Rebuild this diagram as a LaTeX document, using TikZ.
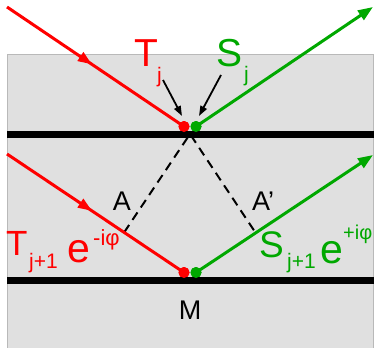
\documentclass[tikz,border=0pt]{standalone}
\usepackage{fontspec}
\setmainfont{Liberation Sans}
\usetikzlibrary{arrows.meta,decorations.markings,calc}
\definecolor{myred}{RGB}{255,0,0}
\definecolor{mygreen}{RGB}{0,168,0}
\definecolor{bgfill}{RGB}{224,224,224}
\definecolor{bgline}{RGB}{185,185,185}
\newcommand{\fsz}[1]{\fontsize{#1}{#1}\selectfont}
\begin{document}
\begin{tikzpicture}[x=1pt,y=-1pt,
  ray/.style={line width=3pt},
  redray/.style={ray,draw=myred,postaction={decorate},
    decoration={markings,mark=at position 0.48 with {\arrow[myred]{Triangle[length=14pt,width=10pt]}}}},
  greenray/.style={ray,draw=mygreen,-{Triangle[length=15pt,width=11pt]}},
  mirror/.style={line width=7.5pt,draw=black},
  pointer/.style={line width=1.8pt,-{Triangle[length=10pt,width=7pt]}},
  dashline/.style={line width=2pt,dash pattern=on 9pt off 6pt},
  lbl/.style={anchor=base west,inner sep=0pt},
  big/.style={lbl,text depth=0pt},
  dotr/.style={circle,fill=myred,minimum size=11pt,inner sep=0pt},
  dotg/.style={circle,fill=mygreen,minimum size=11pt,inner sep=0pt}
]
\clip (0,0) rectangle (375,348);
% background slab
\fill[bgfill] (7,54) rectangle (373,352);
\draw[bgline,line width=1pt] (7,352) -- (7,54) -- (373,54) -- (373,352);
% coordinates
\coordinate (inU) at (7,7);
\coordinate (outU) at (373,7);
\coordinate (inL) at (7,154);
\coordinate (outL) at (373,155);
\coordinate (apex) at (190,134);
\coordinate (mUl) at (7,134.5);
\coordinate (mUr) at (374,134.5);
\coordinate (mLl) at (7,280.5);
\coordinate (mLr) at (374,280.5);
\node[dotr] (rU) at (184,126.5) {};
\node[dotg] (gU) at (196,126.5) {};
\node[dotr] (rL) at (184,272.5) {};
\node[dotg] (gL) at (196,272.5) {};
% dashed perpendiculars
\coordinate (footA) at ($(inL)!(apex)!(rL.center)$);
\coordinate (footB) at ($(gL.center)!(apex)!(outL)$);
\draw[dashline] (footA) -- (apex) -- (footB);
% mirrors
\draw[mirror] (mUl) -- (mUr);
\draw[mirror] (mLl) -- (mLr);
% rays
\draw[redray] (inU) -- (rU.center);
\draw[redray] (inL) -- (rL.center);
\draw[greenray] (gU.center) -- (outU);
\draw[greenray] (gL.center) -- (outL);
% dots on top
\node[dotr] at (rU) {};
\node[dotg] at (gU) {};
\node[dotr] at (rL) {};
\node[dotg] at (gL) {};
% upper labels
\node[big,text=myred,font={\fsz{39}}] (Tj) at (134,66) {T};
\node[lbl,text=myred,font={\fsz{21}}] (Tjs) at (157,82) {j};
\node[big,text=mygreen,font={\fsz{39}}] (Sj) at (216,66) {S};
\node[lbl,text=mygreen,font={\fsz{21}}] (Sjs) at (244,81) {j};
\coordinate (pT) at (163,80);
\coordinate (pS) at (221,75);
\draw[pointer] (pT) -- (182,116);
\draw[pointer] (pS) -- (199,116);
% A, A', M
\node[font={\fsz{27}},inner sep=0pt] (A) at (122,201) {A};
\node[font={\fsz{27}},inner sep=0pt] (Ap) at (263,201) {A’};
\node[font={\fsz{27}},inner sep=0pt] (M) at (190,310) {M};
% lower left label
\node[big,text=myred,font={\fsz{35}}] (T1) at (6,255) {T};
\node[lbl,text=myred,font={\fsz{21}}] (T1s) at (29,268) {j+1};
\node[big,text=myred,font={\fsz{41}}] (T1e) at (67,262) {e};
\node[lbl,text=myred,font={\fsz{22}}] (T1p) at (93,245) {-iφ};
% lower right label
\node[big,text=mygreen,font={\fsz{37}}] (S1) at (259,257) {S};
\node[lbl,text=mygreen,font={\fsz{21}}] (S1s) at (287,268) {j+1};
\node[big,text=mygreen,font={\fsz{41}}] (S1e) at (320,263) {e};
\node[lbl,text=mygreen,font={\fsz{20}}] (S1p) at (343,239) {+iφ};
\end{tikzpicture}
\end{document}
